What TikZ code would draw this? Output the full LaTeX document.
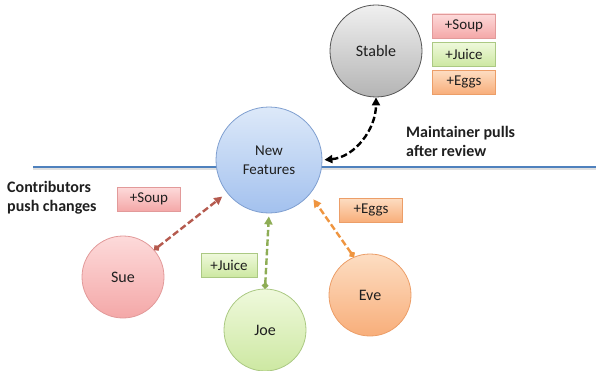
\documentclass[tikz,border=0pt]{standalone}
\usepackage{fontspec}
\setmainfont{Carlito}
\usepackage{xcolor}
\usepackage{tikz}
\usetikzlibrary{arrows.meta, positioning}

% fills and outlines for the bubbles and tags
\definecolor{nfTop}{HTML}{DDE9F9}
\definecolor{nfBot}{HTML}{A3C1EE}
\definecolor{nfLine}{HTML}{7F9FD0}
\definecolor{stableTop}{HTML}{F0F0F0}
\definecolor{stableBot}{HTML}{B4B4B4}
\definecolor{stableLine}{HTML}{555555}
\definecolor{soupTop}{HTML}{FDDADA}
\definecolor{soupBot}{HTML}{F4A8A8}
\definecolor{soupLine}{HTML}{E29A9A}
\definecolor{juiceTop}{HTML}{EFF9DC}
\definecolor{juiceBot}{HTML}{CDE8A2}
\definecolor{juiceLine}{HTML}{ABC983}
\definecolor{eggsTop}{HTML}{FDDDC2}
\definecolor{eggsBot}{HTML}{F8AE7A}
\definecolor{eggsLine}{HTML}{EC9E68}
\definecolor{soupArrow}{HTML}{B55A4E}
\definecolor{juiceArrow}{HTML}{8EAD55}
\definecolor{eggsArrow}{HTML}{EF9540}
\definecolor{divider}{HTML}{4F81BD}

\begin{document}
\begin{tikzpicture}[
    x=1pt, y=1pt,
    every node/.style={font=\fontsize{16}{19}\selectfont, text=black!88},
    bubble/.style={circle, draw=#1Line, line width=0.8pt, top color=#1Top,
        bottom color=#1Bot, minimum size=82pt, inner sep=0pt, align=center},
    tagbox/.style={rectangle, draw=#1Line, line width=0.6pt, top color=#1Top,
        bottom color=#1Bot, minimum width=63pt, minimum height=24pt, inner sep=2pt,
        font=\fontsize{15}{17}\selectfont},
    push/.style={{Circle[length=6pt]}-{Triangle[length=8pt, width=8pt]},
        line width=2.4pt, dash pattern=on 6.5pt off 3pt, draw=#1},
    pull/.style={{Triangle[length=8pt, width=8pt]}-{Triangle[length=8pt, width=8pt]},
        line width=2.4pt, dash pattern=on 6.5pt off 3pt, draw=black},
    sidetext/.style={align=left, anchor=north west, inner sep=0pt,
        font=\bfseries\fontsize{16}{19.5}\selectfont},
]
\useasboundingbox (0,0) rectangle (596,370);

% --- Divider ---
\coordinate (divL) at (33,203);
\coordinate (divR) at (596,203);
\draw[black!12, line width=1.5pt] ([yshift=-1.8pt]divL) -- ([yshift=-1.8pt]divR);
\draw[divider, line width=1.8pt] (divL) -- (divR);

% --- Branches ---
\node[bubble=nf, minimum size=106pt, font=\fontsize{15}{19}\selectfont] (nf) at (269,210) {New\\Features};
\node[bubble=stable, minimum size=92pt] (stable) at (376,319) {Stable};

% --- Contributors ---
\node[bubble=soup] (sue) at (123,93) {Sue};
\node[bubble=juice] (joe) at (265,40) {Joe};
\node[bubble=eggs] (eve) at (370,75) {Eve};

% --- Changes already in stable ---
\node[tagbox=soup] (soupS) at (464,344) {+Soup};
\node[tagbox=juice, below=3.5pt of soupS] (juiceS) {+Juice};
\node[tagbox=eggs, below=3.5pt of juiceS] (eggsS) {+Eggs};

% --- Changes being pushed ---
\node[tagbox=soup] (soupP) at (149,171) {+Soup};
\node[tagbox=juice, minimum width=56pt] (juiceP) at (229,105) {+Juice};
\node[tagbox=eggs] (eggsP) at (371,160) {+Eggs};

% --- Notes ---
\node[sidetext] (pushnote) at (7,189) {Contributors\\push changes};
\node[sidetext] (pullnote) at (406,244) {Maintainer pulls\\after review};

% --- Arrows ---
\draw[push=soupArrow, shorten >=6pt] (sue.41) -- (nf.218);
\draw[push=juiceArrow, shorten >=3pt] (joe.north) -- (nf.south);
\draw[push=eggsArrow, shorten >=6pt] (eve.113) -- (nf.-40);
\draw[pull, shorten <=2pt] (nf.east) to[out=5, in=-90] (stable.south);

\end{tikzpicture}
\end{document}
